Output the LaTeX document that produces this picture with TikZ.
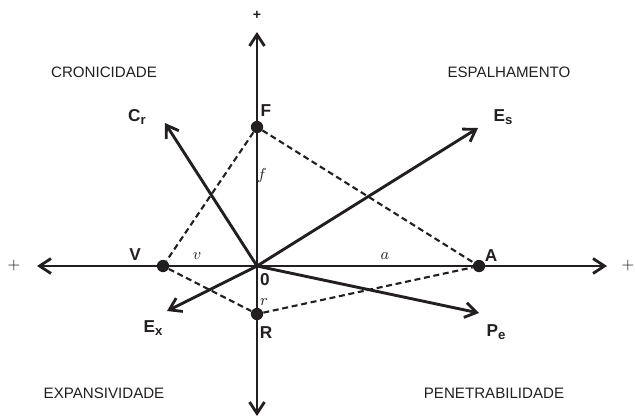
\documentclass[tikz,border=0pt]{standalone}
\usepackage{fontspec}
\setmainfont{Liberation Sans}
\usetikzlibrary{positioning,arrows.meta}
\definecolor{axdark}{HTML}{231F20}
\newcommand{\vsub}[2]{#1\raisebox{-0.35ex}{\fontsize{7.5}{8}\selectfont #2}}

\begin{document}
\begin{tikzpicture}[x=0.02cm, y=-0.02cm,
  axis/.style={draw=axdark, line width=1.65pt, -{Straight Barb[length=6.5pt, width=8.5pt, line width=1.6pt]}},
  guide/.style={draw=axdark, line width=1.2pt, dash pattern=on 3.4pt off 2.1pt},
  dot/.style={circle, fill=axdark, inner sep=0pt, minimum size=7pt},
  vlab/.style={font=\fontsize{9.8}{11}\selectfont\bfseries, text=axdark, inner sep=1pt},
  mlab/.style={font=\fontsize{9.5}{11}\selectfont, text=axdark, inner sep=1pt},
  qlab/.style={font=\fontsize{8.6}{10}\selectfont, text=axdark},
]
\useasboundingbox (0,0) rectangle (635,419);
% origin and axis ends
\coordinate (O) at (257,266);
\coordinate (top) at (257,32);
\coordinate (bot) at (257,416);
\coordinate (lft) at (37,266);
\coordinate (rgt) at (607,266);
\draw[axis] (O) -- (top);
\draw[axis] (O) -- (bot);
\draw[axis] (O) -- (lft);
\draw[axis] (O) -- (rgt);
\node[font=\fontsize{8}{10}\selectfont\bfseries, text=axdark] (ptop) at (257,15) {+};
\node[font=\fontsize{9}{10}\selectfont, text=axdark] (plft) at (14,266) {$+$};
\node[font=\fontsize{9}{10}\selectfont, text=axdark] (prgt) at (628,266) {$+$};

% vectors
\coordinate (cr) at (165,123);
\coordinate (es) at (478,128);
\coordinate (ex) at (167,311);
\coordinate (pe) at (479,313);
\draw[axis] (O) -- (cr);
\draw[axis] (O) -- (es);
\draw[axis] (O) -- (ex);
\draw[axis] (O) -- (pe);
\node[vlab] (crl) at (137,117) {\vsub{C}{r}};
\node[vlab] (esl) at (503,117) {\vsub{E}{s}};
\node[vlab] (exl) at (153,328) {\vsub{E}{x}};
\node[vlab] (pel) at (496,332) {\vsub{P}{e}};

% polygon points
\node[dot] (F) at (257,127) {};
\node[dot] (V) at (163,266) {};
\node[dot] (A) at (479,266) {};
\node[dot] (R) at (257,314) {};
\draw[guide] (F) -- (V);
\draw[guide] (F) -- (A);
\draw[guide] (V) -- (R);
\draw[guide] (R) -- (A);
\node[vlab] (Fl) at (266,111) {F};
\node[vlab] (Vl) at (135,255) {V};
\node[vlab] (Al) at (491,256) {A};
\node[vlab] (Rl) at (266,333) {R};
\node[vlab] (Ol) at (265,280) {0};
\node[mlab] (fl) at (262,176) {$f$};
\node[mlab] (vl) at (197,256) {$v$};
\node[mlab] (al) at (385,256) {$a$};
\node[mlab] (rl) at (264,302) {$r$};

% quadrant labels
\node[qlab] (q1) at (104,72) {CRONICIDADE};
\node[qlab] (q2) at (509,72) {ESPALHAMENTO};
\node[qlab] (q3) at (104,393) {EXPANSIVIDADE};
\node[qlab] (q4) at (494,393) {PENETRABILIDADE};
\end{tikzpicture}
\end{document}
